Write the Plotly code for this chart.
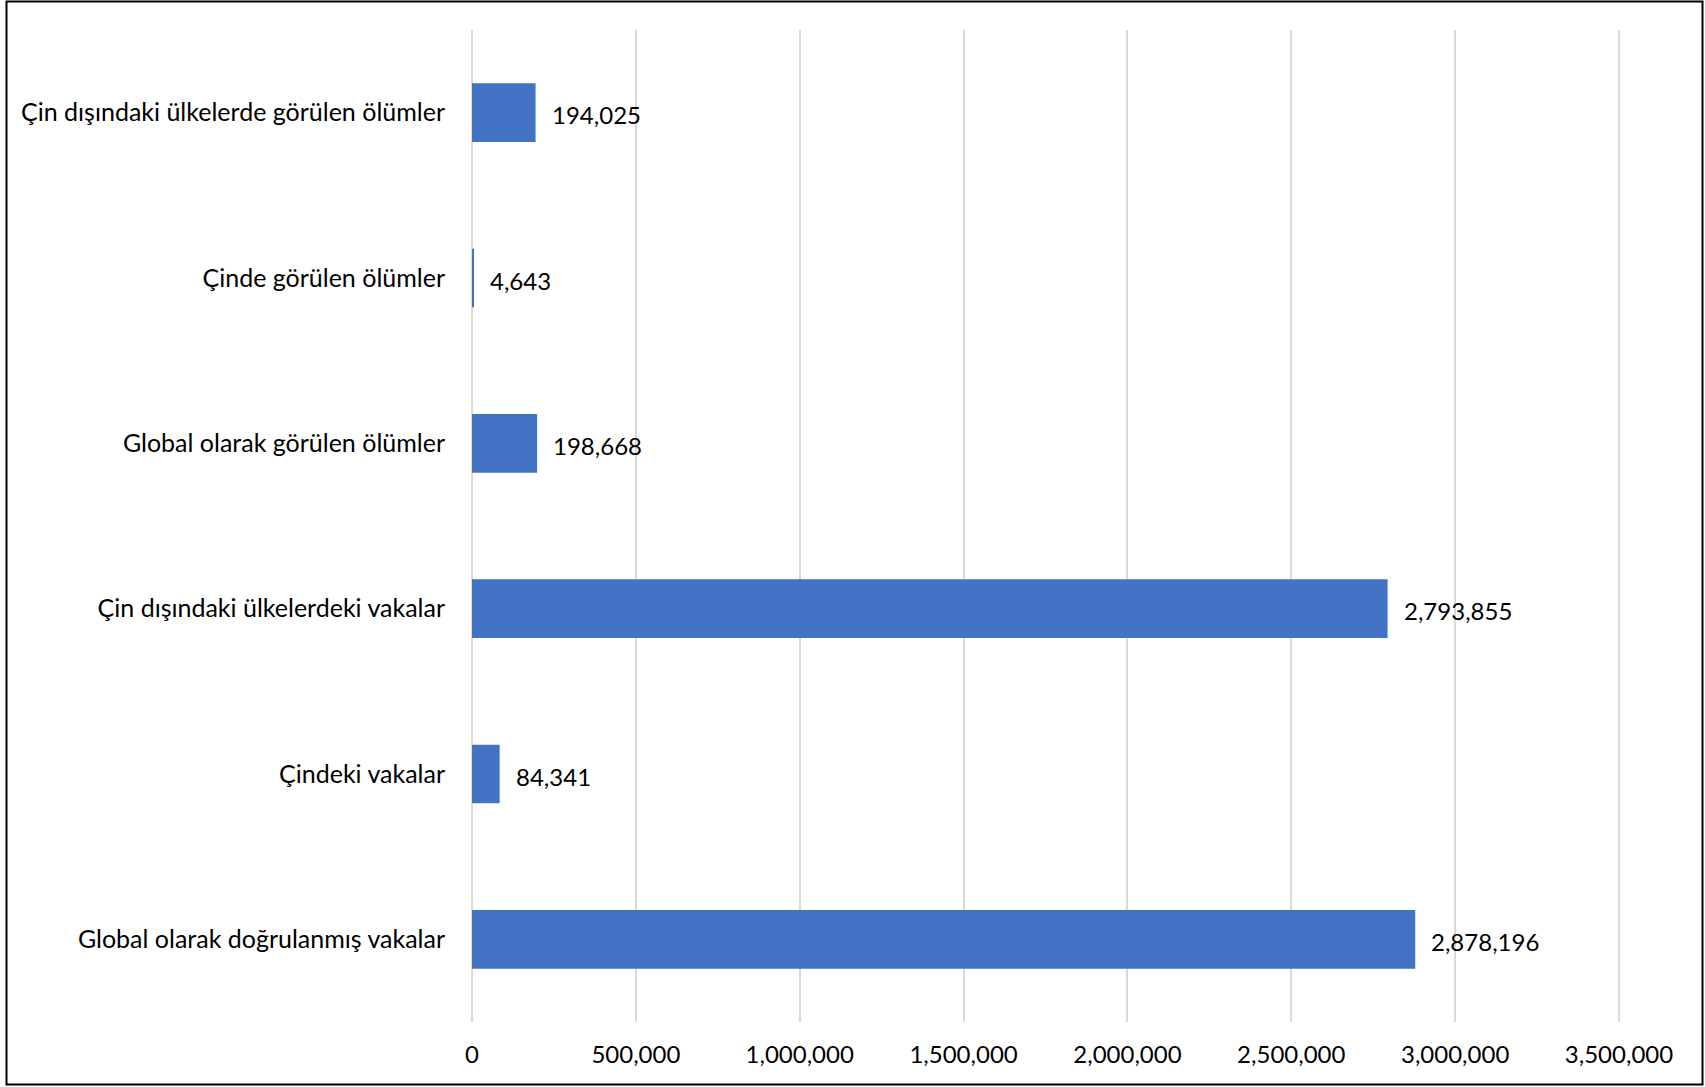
import plotly.graph_objects as go

categories = [
    "Global olarak doğrulanmış vakalar",
    "Çindeki vakalar",
    "Çin dışındaki ülkelerdeki vakalar",
    "Global olarak görülen ölümler",
    "Çinde görülen ölümler",
    "Çin dışındaki ülkelerde görülen ölümler",
]
values = [2878196, 84341, 2793855, 198668, 4643, 194025]
tick_vals = [0, 500000, 1000000, 1500000, 2000000, 2500000, 3000000, 3500000]
tick_text = ["0", "500,000", "1,000,000", "1,500,000", "2,000,000", "2,500,000", "3,000,000", "3,500,000"]

FONT = "Lato"
FS = 24
PAD = 4
W, H = 1705, 1087
L, R, T, B = 472 - PAD, 86 - PAD, 30, 65
pw, ph = W - L - R, H - T - B
upp = 3500000 / (pw - 2 * PAD)
xr = [-PAD * upp, 3500000 + PAD * upp]

fig = go.Figure()
fig.add_trace(go.Bar(
    x=values, y=categories, orientation="h",
    marker=dict(color="#4472C4", line=dict(width=0)),
    width=0.355, hoverinfo="x+y",
))

for c, v in zip(categories, values):
    fig.add_annotation(x=v, y=c, text=f"{v:,}", showarrow=False,
                       xanchor="left", yanchor="middle", xshift=14, yshift=-2,
                       font=dict(family=FONT, size=FS, color="#000000"))

fig.update_layout(
    width=W, height=H,
    margin=dict(l=L, r=R, t=T, b=B, pad=0),
    paper_bgcolor="white", plot_bgcolor="white",
    showlegend=False,
    font=dict(family=FONT, size=FS, color="#000000"),
    xaxis=dict(range=xr, tickvals=tick_vals, ticktext=tick_text,
               showgrid=True, gridcolor="#D9D9D9", gridwidth=1.5,
               zeroline=False, showline=False, ticks="",
               ticklabelstandoff=16, tickfont=dict(family=FONT, size=FS, color="#000000"),
               fixedrange=True),
    yaxis=dict(categoryorder="array", categoryarray=categories,
               range=[-0.5, len(categories) - 0.5],
               showgrid=False, zeroline=False, showline=False, ticks="",
               ticklabelstandoff=22, tickfont=dict(family=FONT, size=25, color="#000000"),
               fixedrange=True),
)

# outer border of the chart
bx0 = (6.5 - L) / pw
bx1 = (W - 2.5 - L) / pw
by0 = ((H - B) - (H - 2.5)) / ph
by1 = ((H - B) - 1.5) / ph
fig.add_shape(type="rect", xref="paper", yref="paper",
              x0=bx0, x1=bx1, y0=by0, y1=by1,
              line=dict(color="#000000", width=2), fillcolor="rgba(0,0,0,0)", layer="above")

fig.write_html("out.html", config={"displayModeBar": False},
               post_script="document.body.style.margin='0';document.body.style.overflow='hidden';")
